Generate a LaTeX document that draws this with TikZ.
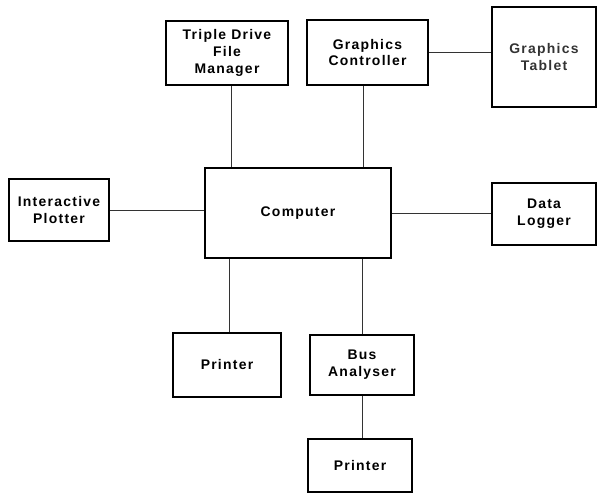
\documentclass[tikz,border=0pt]{standalone}
\usepackage{fontspec}
\setmainfont{Liberation Sans}
\newfontfamily\boxfont[LetterSpace=9]{Liberation Sans}
\begin{document}
\begin{tikzpicture}[x=1bp,y=-1bp,
  unit/.style={draw, line width=1.8bp, rectangle, align=center, inner sep=0pt,
    font=\boxfont\bfseries\fontsize{14}{17}\selectfont},
  link/.style={line width=0.9bp, draw=black!80}]
  \useasboundingbox (0,0) rectangle (598,501);

  % peripheral units
  \node[unit, minimum width=122bp, minimum height=64bp] (tdfm) at (227,53) {Triple Drive\\File\\Manager};
  \node[unit, minimum width=121bp, minimum height=65bp] (gc) at (367.5,52.5) {Graphics\\Controller};
  \node[unit, line width=2.6bp, minimum width=104bp, minimum height=100bp, text=black!80] (tab) at (544,57) {Graphics\\Tablet};
  \node[unit, minimum width=100bp, minimum height=62bp] (plot) at (59,210) {Interactive\\Plotter};
  \node[unit, minimum width=186bp, minimum height=90bp] (comp) at (298,213) {Computer};
  \node[unit, minimum width=104bp, minimum height=62bp] (log) at (544,214) {Data\\Logger};
  \node[unit, minimum width=108bp, minimum height=64bp] (pr1) at (227,365) {Printer};
  \node[unit, minimum width=104bp, minimum height=60bp] (bus) at (362,365) {Bus\\Analyser};
  \node[unit, minimum width=104bp, minimum height=53bp] (pr2) at (360,465.5) {Printer};

  % connections
  \draw[link] ([xshift=4bp]tdfm.south) -- ([xshift=4bp]tdfm.south |- comp.north);
  \draw[link] ([xshift=-4.5bp]gc.south) -- ([xshift=-4.5bp]gc.south |- comp.north);
  \draw[link] (gc.east) -- (gc.east -| tab.west);
  \draw[link] (plot.east) -- (plot.east -| comp.west);
  \draw[link] (comp.east) -- (comp.east -| log.west);
  \draw[link] ([xshift=2bp]pr1.north |- comp.south) -- ([xshift=2bp]pr1.north);
  \draw[link] (bus.north |- comp.south) -- (bus.north);
  \draw[link] (bus.south) -- (bus.south |- pr2.north);
\end{tikzpicture}
\end{document}
